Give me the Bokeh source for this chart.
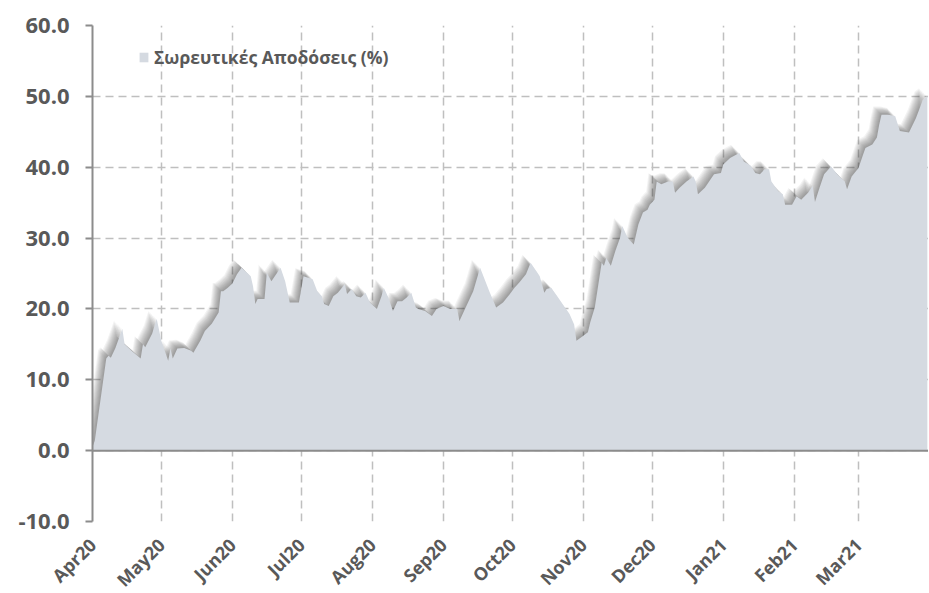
import math
from datetime import datetime
import pandas as pd
from bokeh.plotting import figure
from bokeh.models import (Range1d, ColumnDataSource, Span, Legend, LegendItem,
                          MonthsTicker, DatetimeTickFormatter, PrintfTickFormatter,
                          SingleIntervalTicker)
from bokeh.embed import file_html
from bokeh.resources import INLINE

series_name = "Σωρευτικές Αποδόσεις (%)"

dates = [
    "2020-04-01", "2020-04-02", "2020-04-07", "2020-04-08", "2020-04-09", "2020-04-11",
    "2020-04-14", "2020-04-15", "2020-04-18", "2020-04-22", "2020-04-23", "2020-04-24",
    "2020-04-27", "2020-04-29", "2020-05-01", "2020-05-04", "2020-05-05", "2020-05-06",
    "2020-05-08", "2020-05-11", "2020-05-14", "2020-05-15", "2020-05-18", "2020-05-20",
    "2020-05-23", "2020-05-26", "2020-05-27", "2020-05-28", "2020-05-30", "2020-06-01",
    "2020-06-03", "2020-06-05", "2020-06-09", "2020-06-10", "2020-06-11", "2020-06-12",
    "2020-06-15", "2020-06-16", "2020-06-18", "2020-06-22", "2020-06-24", "2020-06-26",
    "2020-06-30", "2020-07-02", "2020-07-06", "2020-07-08", "2020-07-10", "2020-07-11",
    "2020-07-13", "2020-07-15", "2020-07-17", "2020-07-20", "2020-07-21", "2020-07-23",
    "2020-07-25", "2020-07-27", "2020-07-29", "2020-07-31", "2020-08-03", "2020-08-05",
    "2020-08-06", "2020-08-08", "2020-08-10", "2020-08-12", "2020-08-14", "2020-08-16",
    "2020-08-18", "2020-08-20", "2020-08-21", "2020-08-24", "2020-08-27", "2020-08-29",
    "2020-09-01", "2020-09-04", "2020-09-07", "2020-09-08", "2020-09-10", "2020-09-14",
    "2020-09-17", "2020-09-21", "2020-09-24", "2020-09-27", "2020-09-30", "2020-10-02",
    "2020-10-04", "2020-10-07", "2020-10-09", "2020-10-12", "2020-10-13", "2020-10-15",
    "2020-10-16", "2020-10-18", "2020-10-21", "2020-10-24", "2020-10-26", "2020-10-28",
    "2020-10-29", "2020-11-01", "2020-11-03", "2020-11-04", "2020-11-06", "2020-11-08",
    "2020-11-09", "2020-11-10", "2020-11-11", "2020-11-13", "2020-11-15", "2020-11-17",
    "2020-11-18", "2020-11-20", "2020-11-21", "2020-11-23", "2020-11-25", "2020-11-27",
    "2020-11-29", "2020-11-30", "2020-12-02", "2020-12-03", "2020-12-05", "2020-12-08",
    "2020-12-10", "2020-12-11", "2020-12-13", "2020-12-16", "2020-12-19", "2020-12-20",
    "2020-12-21", "2020-12-24", "2020-12-28", "2020-12-31", "2021-01-01", "2021-01-04",
    "2021-01-08", "2021-01-10", "2021-01-13", "2021-01-15", "2021-01-17", "2021-01-19",
    "2021-01-21", "2021-01-22", "2021-01-25", "2021-01-27", "2021-01-28", "2021-01-31",
    "2021-02-02", "2021-02-04", "2021-02-07", "2021-02-09", "2021-02-10", "2021-02-12",
    "2021-02-14", "2021-02-17", "2021-02-20", "2021-02-23", "2021-02-24", "2021-02-26",
    "2021-03-01", "2021-03-03", "2021-03-04", "2021-03-07", "2021-03-09", "2021-03-10",
    "2021-03-11", "2021-03-14", "2021-03-17", "2021-03-19", "2021-03-23", "2021-03-26",
    "2021-03-28", "2021-03-29", "2021-03-31",
]

returns = [
    0.5, 1.4, 13.0, 13.4, 13.1, 14.5,
    17.2, 15.0, 14.1, 13.0, 15.0, 14.6,
    16.5, 18.6, 15.5, 12.7, 14.4, 13.0,
    14.4, 14.5, 14.1, 13.8, 15.5, 16.9,
    17.9, 19.5, 22.5, 22.5, 23.0, 23.6,
    24.9, 25.8, 24.6, 23.2, 20.7, 21.4,
    21.4, 25.1, 23.9, 25.8, 23.9, 20.9,
    20.9, 24.6, 24.2, 22.5, 21.8, 20.7,
    20.4, 21.8, 22.3, 23.5, 22.1, 22.8,
    21.8, 21.6, 22.3, 20.9, 20.0, 21.8,
    23.0, 21.6, 19.7, 21.1, 21.1, 21.6,
    22.3, 20.2, 20.0, 19.7, 19.0, 20.0,
    20.4, 20.0, 20.0, 18.3, 19.7, 22.5,
    25.8, 22.5, 20.2, 20.9, 22.1, 23.0,
    23.7, 24.9, 26.5, 25.1, 24.6, 22.3,
    22.8, 23.0, 21.6, 20.2, 19.3, 17.8,
    15.5, 16.2, 16.7, 18.1, 20.2, 24.4,
    26.5, 26.1, 27.2, 26.1, 28.2, 30.0,
    31.7, 30.3, 29.8, 29.1, 31.9, 33.6,
    34.0, 34.7, 35.4, 38.0, 37.6, 38.0,
    38.0, 36.4, 37.1, 38.0, 38.7, 38.0,
    36.2, 37.1, 39.0, 39.2, 40.4, 41.3,
    42.0, 40.8, 40.2, 39.2, 39.0, 39.7,
    39.7, 38.0, 36.6, 36.2, 34.7, 34.7,
    35.9, 35.4, 36.4, 37.4, 35.1, 37.1,
    39.0, 40.1, 38.9, 38.0, 36.9, 38.7,
    39.9, 41.8, 42.7, 43.2, 44.2, 46.0,
    47.4, 47.4, 47.2, 45.1, 44.9, 46.9,
    48.6, 49.5, 50.0,
]

y_min, y_max, y_step = -10, 60, 10

TEXT = "#595959"
AXIS = "#8c8c8c"
GRID = "#bfbfbf"
FILL = "#d5dae1"

x_start = datetime(2020, 4, 1)
x_end = datetime(2021, 3, 31, 12)
FW, FH = 836, 496

p = figure(frame_width=FW, frame_height=FH, x_axis_type="datetime",
           output_backend="svg", toolbar_location=None,
           x_range=Range1d(x_start, x_end), y_range=Range1d(y_min, y_max),
           min_border_left=92, min_border_right=0, min_border_top=25,
           min_border_bottom=56)
p.outline_line_color = None
p.background_fill_color = "white"
p.border_fill_color = "white"

df = pd.DataFrame({"date": pd.to_datetime(dates), "ret": returns})
src = ColumnDataSource(df)

# soft shadow (offset up-left), built from the same data
px_per_day = FW / ((x_end - x_start).total_seconds() / 86400)
px_per_unit = FH / (y_max - y_min)
for k in [1.0, 1.8, 2.6, 3.4, 4.2, 5.0, 5.8, 6.6, 7.4, 8.2]:
    sdf = pd.DataFrame({
        "date": df["date"] - pd.to_timedelta(k / px_per_day, unit="D"),
        "ret": df["ret"] + k / px_per_unit,
    })
    p.varea(x="date", y1=0, y2="ret", source=ColumnDataSource(sdf),
            fill_color="#333333", fill_alpha=0.06)

area = p.varea(x="date", y1=0, y2="ret", source=src, fill_color=FILL, fill_alpha=1.0)

p.add_layout(Span(location=0, dimension="width", line_color=AXIS, line_width=2))

# grids
p.xgrid.ticker = MonthsTicker(months=list(range(12)))
p.ygrid.ticker = SingleIntervalTicker(interval=y_step)
for g in (p.xgrid, p.ygrid):
    g.grid_line_color = GRID
    g.grid_line_dash = "8 5"
    g.grid_line_width = 1.5

# y axis
ya = p.yaxis[0]
ya.ticker = SingleIntervalTicker(interval=y_step)
ya.formatter = PrintfTickFormatter(format="%.1f")
ya.axis_line_color = AXIS
ya.axis_line_width = 2
ya.major_tick_line_color = AXIS
ya.major_tick_line_width = 2
ya.major_tick_in = 0
ya.major_tick_out = 7
ya.minor_tick_line_color = None
ya.major_label_standoff = 16
ya.major_label_text_font = "Open Sans"
ya.major_label_text_font_style = "bold"
ya.major_label_text_font_size = "22px"
ya.major_label_text_color = TEXT

# x axis
xa = p.xaxis[0]
xa.ticker = MonthsTicker(months=list(range(12)))
xa.formatter = DatetimeTickFormatter(months="%b%y", days="%b%y", years="%b%y")
xa.axis_line_color = None
xa.major_tick_line_color = None
xa.minor_tick_line_color = None
xa.major_label_orientation = math.pi / 4
xa.major_label_standoff = 14
xa.major_label_text_font = "Open Sans"
xa.major_label_text_font_style = "bold"
xa.major_label_text_font_size = "18px"
xa.major_label_text_color = TEXT

legend = Legend(items=[LegendItem(label=series_name, renderers=[area])],
                location=(46, 452), border_line_color=None,
                background_fill_alpha=0, padding=0, margin=0,
                glyph_width=11, glyph_height=12, label_standoff=5,
                label_text_font="Open Sans", label_text_font_style="bold",
                label_text_font_size="17.5px", label_text_color=TEXT)
p.add_layout(legend)

open("out.html", "w").write(file_html(p, INLINE))
